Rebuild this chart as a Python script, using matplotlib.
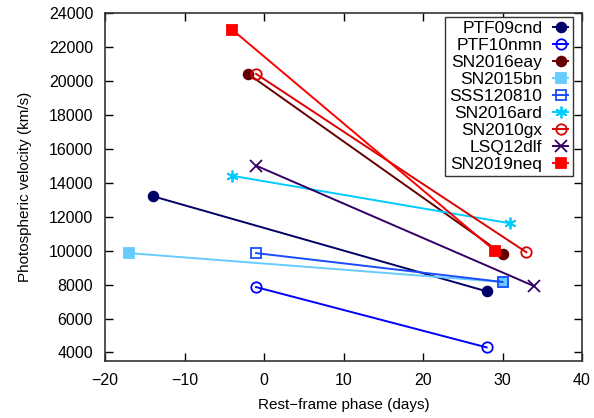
import matplotlib
matplotlib.use('Agg')
import matplotlib.pyplot as plt

plt.rcParams['font.family'] = ['Liberation Sans', 'DejaVu Sans']
plt.rcParams['font.size'] = 11

# Datos: fase (días) y velocidad fotosférica (km/s), inicio y final de cada SN
nombres = ['PTF09cnd', 'PTF10nmn', 'SN2016eay', 'SN2015bn', 'SSS120810',
           'SN2016ard', 'SN2010gx', 'LSQ12dlf', 'SN2019neq']
fase_ini = [-14, -1, -2, -17, -1, -4, -1, -1, -4]
fase_fin = [28, 28, 30, 30, 30, 31, 33, 34, 29]
vel_ini = [13200, 7850, 20400, 9850, 9850, 14400, 20400, 15000, 23000]
vel_fin = [7600, 4300, 9800, 8150, 8150, 11600, 9900, 7900, 10000]

colores = ['#000066', '#0000ff', '#660000', '#66ccff', '#1a4cff',
           '#00ccff', '#dd0000', '#330066', '#ff0000']
marcadores = ['o', 'o', 'o', 's', 's', '*', 'o', 'x', 's']
rellenos = [True, False, True, True, False, None, False, None, True]

fig = plt.figure(figsize=(5.94, 4.18), dpi=100)
ax = fig.add_axes([0.1768, 0.1364, 0.803, 0.8332])

for i in range(len(nombres)):
    c = colores[i]
    m = marcadores[i]
    kw = dict(color=c, linewidth=1.4, marker=m, markersize=7.5, markeredgewidth=1.3)
    if m == '*':
        kw['marker'] = (6, 2, 0)
        kw['markersize'] = 8.5
    elif m == 'x':
        kw['markersize'] = 8.5
    elif m == 's':
        kw['markersize'] = 7.5
        kw['markerfacecolor'] = c if rellenos[i] else 'none'
    elif rellenos[i]:
        kw['markerfacecolor'] = c
        kw['markersize'] = 7
    else:
        kw['markerfacecolor'] = 'none'
    ax.plot([fase_ini[i], fase_fin[i]], [vel_ini[i], vel_fin[i]], label=nombres[i], **kw)

ax.set_xlim(-20, 40)
ax.set_ylim(3500, 24000)
ax.set_xticks(range(-20, 41, 10))
ax.set_yticks(range(4000, 24001, 2000))
ax.tick_params(direction='in', top=True, right=True, length=6, width=1, pad=8.5, labelsize=11.5)
for s in ax.spines.values():
    s.set_linewidth(1.2)
    s.set_color('#333333')

ax.set_xlabel('Rest\u2212frame phase (days)', labelpad=7.5)
ax.set_ylabel('Photospheric velocity (km/s)', labelpad=12)

leg = ax.legend(loc='upper right', bbox_to_anchor=(0.9805, 0.9877), borderaxespad=0,
                markerfirst=False, fancybox=False, framealpha=1, edgecolor='#333333',
                handlelength=0.9, handletextpad=0.6, labelspacing=0.1, borderpad=0.25,
                fontsize=12.5)
leg.get_frame().set_linewidth(1.0)

fig.savefig('out.png', dpi=100)
